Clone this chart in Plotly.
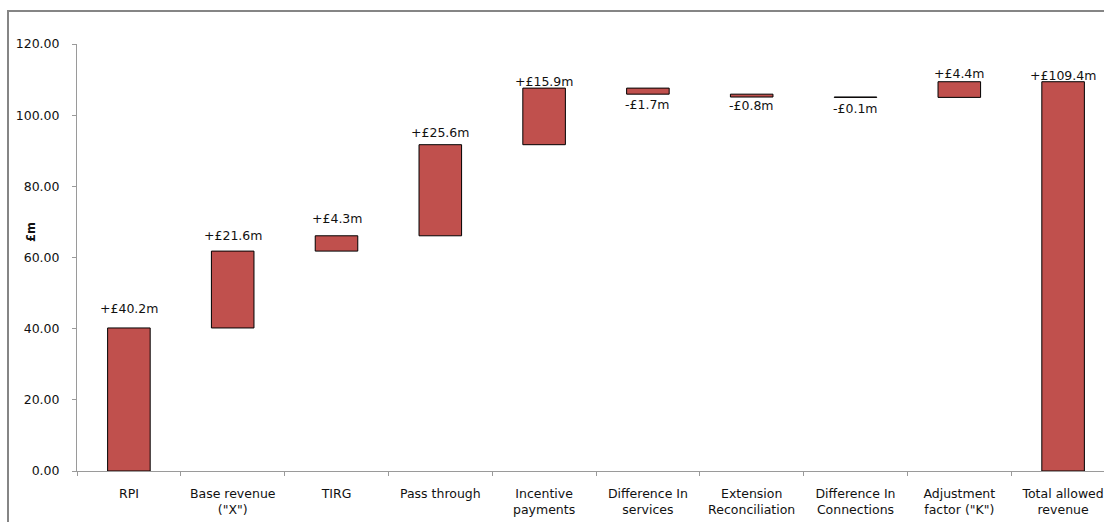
import plotly.graph_objects as go

# Revenue bridge components (£m)
categories = ["RPI", "Base revenue<br>(\"X\")", "TIRG", "Pass through", "Incentive<br>payments",
              "Difference In<br>services", "Extension<br>Reconciliation", "Difference In<br>Connections",
              "Adjustment<br>factor (\"K\")", "Total allowed<br>revenue"]
changes = [40.2, 21.6, 4.3, 25.6, 15.9, -1.7, -0.8, -0.1, 4.4]
total_label = 109.4

# Floating bars: each step starts where the previous one ended; the last bar is the total
bases = []
running = 0.0
for c in changes:
    bases.append(running)
    running = round(running + c, 1)
bases.append(0.0)
values = changes + [total_label]
labels = [("+" if v >= 0 else "-") + "£%.1fm" % abs(v) for v in values]

# Label distance (px) from the bar's outer edge to the label centre
label_gap = [19, 16, 17, 12, 7, 10, 8, 11, 8, 6]

px_left, px_right, px_top, px_bottom = 77, 1104, 44, 471
plot_w = px_right - px_left
plot_h = px_bottom - px_top
cat_px = 103.8

fig = go.Figure(go.Bar(
    x=categories, y=values, base=bases, width=0.41,
    marker=dict(color="#C0504D", line=dict(color="#000000", width=1)),
    hoverinfo="skip",
))

annotations = []
for cat, b, v, lab, gap in zip(categories, bases, values, labels, label_gap):
    edge = b + v
    annotations.append(dict(
        x=cat, y=edge, xref="x", yref="y", text=lab, showarrow=False,
        yanchor="middle", yshift=gap if v >= 0 else -gap,
        font=dict(family="DejaVu Sans", size=12.5, color="#111111"),
    ))

annotations.append(dict(
    text="<b>£m</b>", xref="paper", yref="paper",
    x=(22 - px_left) / plot_w, y=(px_bottom - 232) / plot_h,
    showarrow=False, textangle=-90, font=dict(size=11.5, color="#111111"),
))

fig.update_layout(
    width=1104, height=522,
    margin=dict(l=px_left, r=0, t=px_top, b=522 - px_bottom),
    paper_bgcolor="white", plot_bgcolor="white",
    showlegend=False,
    font=dict(family="DejaVu Sans", size=12.5, color="#111111"),
    xaxis=dict(
        type="category", range=[-0.5, -0.5 + plot_w / cat_px],
        showline=True, linecolor="#9a9a9a", linewidth=1,
        ticks="outside", tickson="boundaries", ticklen=4, tickcolor="#9a9a9a",
        ticklabelstandoff=11, showgrid=False,
    ),
    yaxis=dict(
        range=[0, 120], tickvals=[0, 20, 40, 60, 80, 100, 120], tickformat=".2f",
        showline=True, linecolor="#9a9a9a", linewidth=1,
        ticks="outside", ticklen=4, tickcolor="#9a9a9a",
        ticklabelstandoff=10, showgrid=False, zeroline=False,
    ),
    bargap=0.59,
    shapes=[dict(
        type="rect", xref="paper", yref="paper",
        x0=(8 - px_left) / plot_w, x1=1.05,
        y0=-0.3, y1=(px_bottom - 11) / plot_h,
        line=dict(color="#858585", width=2), fillcolor="rgba(0,0,0,0)", layer="below",
    )],
    annotations=annotations,
)

fig.write_html("out.html")
